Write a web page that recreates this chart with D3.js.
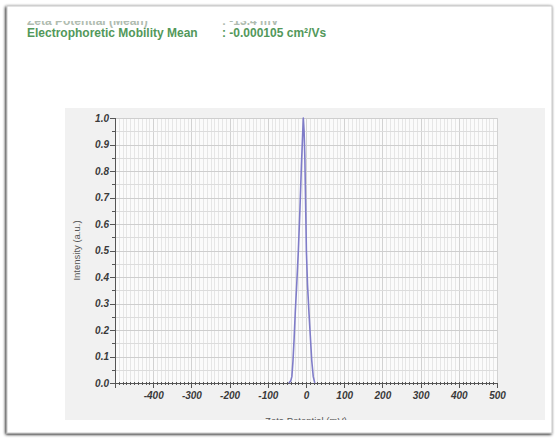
<!DOCTYPE html>
<html lang="en">
<head>
<meta charset="UTF-8">
<title>Zeta Potential</title>
<style>
  body { margin: 0; background: #fff; }
  svg text { font-family: "Liberation Sans", Arial, sans-serif; }
  .hdr { font-weight: bold; font-size: 12px; fill: #52985a; }
  .grid line { shape-rendering: crispEdges; }
  .grid path { display: none; }
  .axis path, .axis line { stroke: #555; shape-rendering: crispEdges; }
  .axis text { font-size: 10px; font-weight: bold; font-style: italic; fill: #3a3a3a; }
  .title { font-size: 9.5px; fill: #555; }
</style>
</head>
<body>
<div id="sv"></div>
<script src="https://cdn.jsdelivr.net/npm/d3@7"></script>
<script>
// zeta potential distribution (mV, intensity)
var zeta =      [-45, -40, -37, -34, -31, -28, -24, -20, -16, -12, -9, -7, -5, -3, -1, 1, 4, 8, 12, 15, 19, 23];
var intensity = [0, 0.008, 0.024, 0.085, 0.17, 0.27, 0.38, 0.5, 0.65, 0.82, 0.93, 1.0, 0.95, 0.85, 0.68, 0.5, 0.37, 0.26, 0.16, 0.085, 0.024, 0];

var xTicks = [-400, -300, -200, -100, 0, 100, 200, 300, 400, 500];
var yTicks = [0, 0.1, 0.2, 0.3, 0.4, 0.5, 0.6, 0.7, 0.8, 0.9, 1.0];

var headerLines = [
  ["Zeta Potential (Mean)", ": -13.4 mV"],
  ["Electrophoretic Mobility Mean", ": -0.000105 cm\u00B2/Vs"]
];

var W = 557, H = 438;
var pLeft = 115, pRight = 497, pTop = 118, pBottom = 383;

var x = d3.scaleLinear().domain([-500, 500]).range([pLeft, pRight]);
var y = d3.scaleLinear().domain([0, 1]).range([pBottom, pTop]);

var svg = d3.select("#sv").append("svg")
  .attr("width", W).attr("height", H);

var defs = svg.append("defs");
var sh = defs.append("filter").attr("id", "shadow").attr("x", "-5%").attr("y", "-5%")
  .attr("width", "110%").attr("height", "110%");
sh.append("feGaussianBlur").attr("in", "SourceAlpha").attr("stdDeviation", 1.5);
sh.append("feOffset").attr("dx", -1).attr("dy", 1).attr("result", "b");
var fm = sh.append("feMerge");
fm.append("feMergeNode").attr("in", "b");
fm.append("feMergeNode").attr("in", "SourceGraphic");

defs.append("clipPath").attr("id", "hclip")
  .append("rect").attr("x", 0).attr("y", 21).attr("width", W).attr("height", 40);
defs.append("clipPath").attr("id", "pclip")
  .append("rect").attr("x", 65).attr("y", 108).attr("width", 480).attr("height", 312);

// card
svg.append("rect")
  .attr("x", 7).attr("y", 6).attr("width", 545).attr("height", 427)
  .attr("fill", "#fff").attr("stroke", "#c8c8c8").attr("stroke-width", 1)
  .attr("filter", "url(#shadow)");

// header (first line is cut off in the source)
var hg = svg.append("g").attr("clip-path", "url(#hclip)");
headerLines.forEach(function(l, i) {
  var yy = 24.5 + i * 12.5;
  var c = i == 0 ? "#b0bcb0" : null;
  hg.append("text").attr("class", "hdr").attr("x", 27).attr("y", yy).text(l[0]).style("fill", c);
  hg.append("text").attr("class", "hdr").attr("x", 222).attr("y", yy).text(l[1]).style("fill", c);
});

// chart panel
var panel = svg.append("g").attr("clip-path", "url(#pclip)");
panel.append("rect").attr("x", 65).attr("y", 108).attr("width", 480).attr("height", 312)
  .attr("fill", "#f1f1f1");
panel.append("rect").attr("x", pLeft).attr("y", pTop).attr("width", pRight - pLeft).attr("height", pBottom - pTop)
  .attr("fill", "#fbfbfb");

var minorY = d3.range(1, 20, 2).map(d => d / 20);
var fmtX = d => String(d);

// grid: minor vertical every 10 mV
panel.append("g").attr("class", "grid")
  .attr("transform", `translate(0,${pBottom})`)
  .call(d3.axisBottom(x).tickValues(d3.range(-500, 501, 10)).tickSize(-(pBottom - pTop)).tickFormat(""))
  .selectAll("line").attr("stroke", "#e6e6e6");
panel.append("g").attr("class", "grid")
  .attr("transform", `translate(0,${pBottom})`)
  .call(d3.axisBottom(x).tickValues(xTicks).tickSize(-(pBottom - pTop)).tickFormat(""))
  .selectAll("line").attr("stroke", "#d2d2d2");
panel.append("g").attr("class", "grid")
  .attr("transform", `translate(${pLeft},0)`)
  .call(d3.axisLeft(y).tickValues(minorY).tickSize(-(pRight - pLeft)).tickFormat(""))
  .selectAll("line").attr("stroke", "#dcdcdc");
panel.append("g").attr("class", "grid")
  .attr("transform", `translate(${pLeft},0)`)
  .call(d3.axisLeft(y).tickValues(yTicks).tickSize(-(pRight - pLeft)).tickFormat(""))
  .selectAll("line").attr("stroke", "#cecece");

// axes
panel.append("g").attr("class", "axis")
  .attr("transform", `translate(${pLeft},0)`)
  .call(d3.axisLeft(y).tickValues(yTicks).tickSize(5).tickPadding(1).tickFormat(d3.format(".1f")));
panel.append("g").attr("class", "axis")
  .attr("transform", `translate(${pLeft},0)`)
  .call(d3.axisLeft(y).tickValues(minorY).tickSize(3).tickFormat(""))
  .select(".domain").remove();

panel.append("g").attr("class", "axis")
  .attr("transform", `translate(0,${pBottom - 1.5})`)
  .call(d3.axisBottom(x).tickValues(d3.range(-490, 500, 10)).tickSize(3).tickFormat(""))
  .call(g => g.select(".domain").remove())
  .selectAll("line").attr("stroke", "#777");
panel.append("g").attr("class", "axis")
  .attr("transform", `translate(0,${pBottom})`)
  .call(d3.axisBottom(x).tickValues(xTicks).tickSize(5).tickPadding(4).tickFormat(fmtX));

// curve
var line = d3.line().x((d, i) => x(zeta[i])).y(d => y(d));
panel.append("path")
  .datum(intensity)
  .attr("fill", "none")
  .attr("stroke", "#7f7cc8")
  .attr("stroke-width", 1.6)
  .attr("stroke-linejoin", "round")
  .attr("d", line);

// axis titles
panel.append("text").attr("class", "title")
  .attr("transform", `translate(80,${(pTop + pBottom) / 2}) rotate(-90)`)
  .attr("text-anchor", "middle").text("Intensity (a.u.)");
panel.append("text").attr("class", "title")
  .attr("x", x(0)).attr("y", 424)
  .attr("text-anchor", "middle").text("Zeta Potential (mV)");
</script>
</body>
</html>
